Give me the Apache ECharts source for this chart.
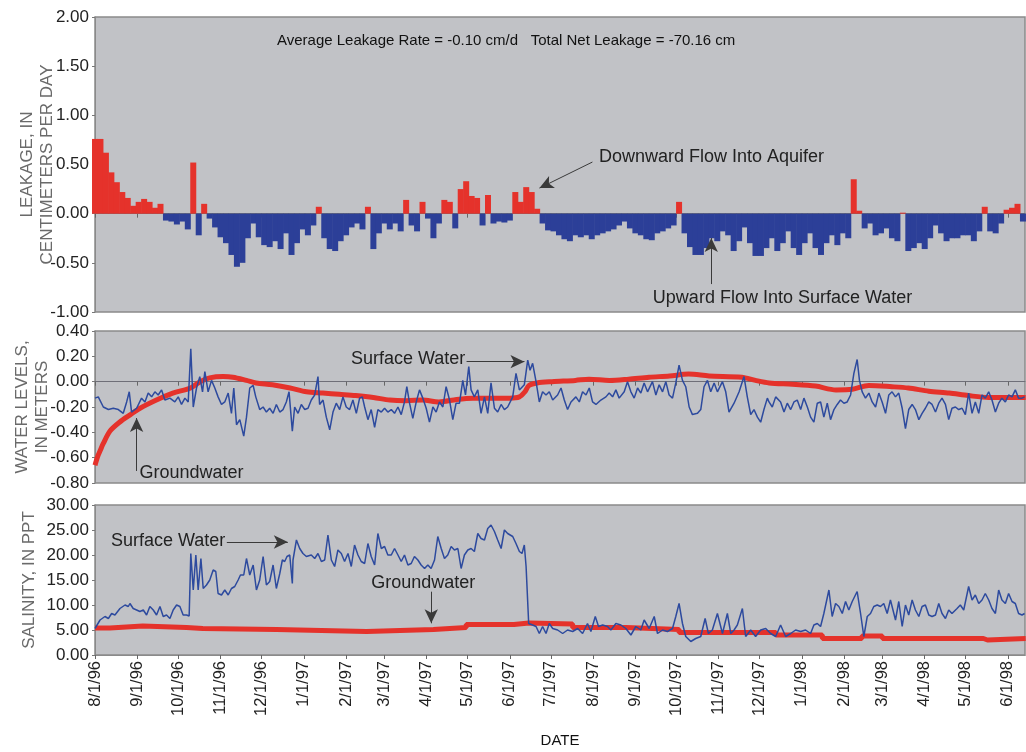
<!DOCTYPE html>
<html><head><meta charset="utf-8">
<script src="https://cdn.jsdelivr.net/npm/echarts@6/dist/echarts.min.js"></script>
<style>html,body{margin:0;padding:0;background:#fff}#c{width:1026px;height:752px}</style>
</head><body><div id="c"></div>
<script>
// ---------------- DATA ----------------
// x values are days after 8/1/96
const tickLabels = ['8/1/96','9/1/96','10/1/96','11/1/96','12/1/96','1/1/97','2/1/97','3/1/97','4/1/97','5/1/97','6/1/97','7/1/97','8/1/97','9/1/97','10/1/97','11/1/97','12/1/97','1/1/98','2/1/98','3/1/98','4/1/98','5/1/98','6/1/98'];
const xEndDay = 681.5;

// Leakage (cm/day), one value every 4 days starting 8/1/96
const leakStepDays = 4;
const leakage = [
 0.76,0.76,0.62,0.42,0.32,0.22,0.16,0.08,0.12,0.15,0.12,0.06,0.10,
 -0.07,-0.08,-0.11,-0.08,-0.16,0.52,-0.22,0.10,-0.05,-0.14,-0.24,-0.30,-0.42,-0.54,-0.50,
 -0.25,-0.10,-0.24,-0.32,-0.34,-0.28,-0.36,-0.20,-0.42,-0.30,-0.16,-0.22,-0.12,0.07,-0.25,-0.36,-0.38,-0.28,-0.22,-0.14,-0.10,-0.16,0.07,-0.36,-0.20,-0.10,-0.16,-0.10,-0.18,0.14,
 -0.12,-0.18,0.12,-0.05,-0.25,-0.10,0.14,0.12,-0.15,0.25,0.33,0.18,0.16,-0.12,0.19,-0.10,-0.08,-0.09,-0.07,0.22,0.12,0.27,0.22,0.05,-0.10,-0.17,-0.18,-0.22,-0.26,-0.28,-0.22,-0.24,-0.22,-0.26,-0.22,-0.20,-0.18,-0.16,-0.12,-0.08,-0.15,-0.20,-0.22,-0.26,-0.27,-0.20,-0.18,-0.15,-0.12,0.12,-0.20,-0.34,-0.42,-0.42,-0.35,
 -0.25,-0.28,-0.18,-0.22,-0.38,-0.28,-0.14,-0.30,-0.43,-0.43,-0.35,-0.25,-0.38,-0.30,-0.18,-0.35,-0.42,-0.30,-0.20,-0.35,-0.42,-0.30,-0.22,-0.32,-0.20,-0.25,0.35,0.03,-0.15,-0.10,-0.22,-0.20,-0.15,-0.25,-0.28,0.01,-0.38,-0.35,-0.30,-0.36,-0.25,-0.12,-0.20,-0.28,-0.25,-0.25,-0.22,-0.22,-0.28,-0.18,0.07,-0.18,-0.20,-0.10,0.04,0.06,0.10,-0.08
];

// Water levels (m): [day, value]
const groundLevel = [[0,-0.66],[2,-0.59],[4,-0.54],[6,-0.49],[11,-0.39],[18,-0.32],[26,-0.26],[33,-0.21],[45,-0.145],[57,-0.09],[70,-0.05],[77,0.0],[84,0.03],[94,0.04],[101,0.035],[111,0.01],[118,-0.01],[130,-0.025],[143,-0.05],[155,-0.08],[167,-0.09],[179,-0.10],[191,-0.11],[204,-0.125],[216,-0.145],[228,-0.15],[240,-0.145],[252,-0.16],[265,-0.14],[277,-0.13],[289,-0.13],[304,-0.13],[311,-0.12],[315,-0.08],[318,-0.03],[324,-0.01],[335,0.0],[352,0.01],[362,0.02],[377,0.01],[391,0.02],[406,0.035],[421,0.045],[435,0.06],[450,0.045],[474,0.035],[484,0.01],[494,-0.01],[511,-0.02],[528,-0.035],[543,-0.065],[555,-0.06],[567,-0.03],[584,-0.04],[596,-0.05],[611,-0.075],[626,-0.09],[640,-0.11],[655,-0.125],[682,-0.125]];

const surfaceLevel = [[0,-0.13],[2.4,-0.12],[6.1,-0.20],[9.8,-0.22],[13.4,-0.21],[17.1,-0.22],[20.7,-0.25],[23.2,-0.16],[25.1,-0.08],[26.8,-0.24],[30.5,-0.21],[34.1,-0.13],[36.6,-0.16],[39,-0.09],[41.5,-0.12],[43.9,-0.08],[46.3,-0.105],[48.8,-0.065],[51.2,-0.145],[54.9,-0.13],[58.5,-0.16],[61,-0.12],[63.4,-0.18],[65.9,-0.13],[68.3,-0.16],[70.2,0.26],[72,-0.20],[74.4,-0.05],[76.8,0.04],[78.8,-0.08],[80.5,0.08],[82.9,-0.08],[85.4,0.01],[87.8,-0.05],[90.2,-0.12],[92.7,-0.18],[95.1,-0.16],[97.6,-0.09],[100,-0.25],[101.7,-0.05],[103.7,-0.34],[106.1,-0.30],[109,-0.43],[111,-0.28],[113.4,-0.05],[115.9,-0.03],[117.8,-0.12],[120.7,-0.22],[123.2,-0.20],[125.6,-0.24],[128,-0.21],[130.5,-0.25],[132.9,-0.18],[135.4,-0.24],[137.8,-0.22],[140.2,-0.16],[142.2,-0.08],[144.6,-0.39],[146.3,-0.20],[148.8,-0.25],[151.2,-0.18],[153.7,-0.22],[156.1,-0.21],[158.5,-0.145],[161,-0.105],[163.4,0.04],[164.6,-0.18],[167.1,-0.145],[169.5,-0.28],[172,-0.38],[174.4,-0.24],[176.8,-0.17],[179.3,-0.22],[181.7,-0.12],[184.1,-0.20],[186.6,-0.22],[189,-0.145],[191.5,-0.25],[193.9,-0.13],[195.9,-0.12],[197.6,-0.20],[200,-0.30],[202.4,-0.22],[204.9,-0.36],[207.3,-0.22],[209.8,-0.24],[212.2,-0.21],[214.6,-0.24],[217.1,-0.22],[219.5,-0.25],[222,-0.20],[224.4,-0.26],[226.8,-0.16],[228.5,-0.04],[230.5,-0.17],[232.9,-0.29],[235.4,-0.16],[237.8,-0.065],[240.2,-0.13],[242.7,-0.21],[245.1,-0.32],[247.6,-0.20],[250,-0.24],[252.4,-0.16],[254.9,-0.20],[257.3,-0.04],[259.8,-0.145],[262.2,-0.30],[264.6,-0.17],[267.1,-0.17],[269.5,0.01],[271.5,-0.105],[273.9,0.12],[275.6,-0.065],[278,-0.12],[280.5,-0.065],[282.9,-0.25],[285.4,-0.12],[287.8,-0.25],[290.2,-0.01],[292.7,-0.21],[295.1,-0.24],[297.6,-0.18],[300,-0.22],[302.4,-0.20],
[306.1,-0.12],[308.5,0.065],[311,-0.065],[314.6,-0.025],[317.1,0.17],[318.8,0.09],[320.7,0.145],[323.2,0],[325.6,-0.16],[328,-0.08],[330.5,-0.105],[332.9,-0.08],[335.4,-0.145],[339,-0.105],[341.5,-0.05],[343.9,-0.145],[346.3,-0.22],[348.8,-0.16],[352.4,-0.12],[354.9,-0.16],[357.3,-0.08],[359.8,-0.105],[362.2,-0.05],[364.6,-0.16],[367.1,-0.18],[370.7,-0.145],[374.4,-0.12],[376.8,-0.09],[379.3,-0.12],[381.7,-0.065],[384.1,-0.13],[387.8,-0.08],[390.2,0],[392.7,-0.08],[395.1,-0.13],[397.6,-0.05],[400,-0.09],[402.4,-0.01],[404.9,-0.08],[408.5,0],[411,-0.105],[413.4,-0.025],[415.9,-0.08],[418.3,0],[420.7,-0.105],[423.2,-0.13],[425.6,-0.01],[428,0.13],[430.5,0.01],[432.9,-0.04],[435.4,-0.20],[437.8,-0.26],[441.5,-0.25],[443.9,-0.22],[446.3,-0.04],[448.8,0.01],[451.2,-0.08],[453.7,-0.01],[456.1,-0.08],[459.8,0],[462.2,-0.08],[464.6,-0.24],[468.3,-0.17],[472,-0.08],[475.6,0.04],[478,-0.12],[480.5,-0.26],[482.9,-0.22],[485.4,-0.28],[487.8,-0.32],[490.2,-0.22],[492.7,-0.13],[493.9,-0.16],[496.3,-0.20],[498.8,-0.12],[502.4,-0.16],[504.9,-0.24],[507.3,-0.17],[509.8,-0.22],[512.2,-0.16],[514.6,-0.145],[517.1,-0.22],[519.5,-0.13],[522,-0.20],[524.4,-0.28],[526.8,-0.32],[529.3,-0.17],[531.7,-0.16],[534.1,-0.28],[536.6,-0.17],[539,-0.30],[541.5,-0.22],[543.9,-0.18],[546.3,-0.145],[548.8,-0.17],[551.2,-0.16],[553.7,-0.105],[556.1,0.065],[558.5,0.175],[560.2,0.01],[562.2,-0.08],[564.6,-0.13],[567.1,-0.09],[569.5,-0.16],[572,-0.20],[574.4,-0.09],[576.8,-0.16],[579.3,-0.25],[581.7,-0.105],[584.1,-0.08],[586.6,-0.12],[589,-0.09],[591.5,-0.21],[593.9,-0.37],[596.3,-0.22],[598.8,-0.18],[601.2,-0.22],[603.7,-0.30],[606.1,-0.25],[608.5,-0.21],[611,-0.16],[613.4,-0.18],[615.9,-0.24],[618.3,-0.17],[620.7,-0.13],[623.2,-0.18],[625.6,-0.30],[628,-0.21],[630.5,-0.20],[632.9,-0.22],[635.4,-0.21],[637.8,-0.26],[640.2,-0.09],[642.7,-0.25],[645.1,-0.16],[647.6,-0.25],[650,-0.105],[652.4,-0.13],[654.9,-0.08],[657.3,-0.145],[659.8,-0.24],[662.2,-0.17],[664.6,-0.13],[667.1,-0.16],[669.5,-0.105],[672,-0.12],[674.4,-0.065],[676.8,-0.13],[679.3,-0.13],[681.2,-0.12]];

// Salinity (ppt): [day, value]
const groundSalinity = [[0,5.4],[11,5.8],[35,5.5],[67,5.3],[79,5.1],[133,4.7],[199,5.1],[248,5.5],[272,6.1],[307,6.4],[318,6.2],[350,5.5],[389,5.1],[428,4.5],[499,4.0],[533,3.3],[562,3.8],[577,3.3],[651,3.0],[654,3.3],[682,3.3]];

const surfaceSalinity = [[0,5.3],[3.7,7.0],[7.3,7.7],[9.8,7.3],[12.2,8.3],[14.6,8.0],[18.3,9.3],[22,10.0],[24.4,9.7],[25.6,10.3],[28,9.3],[30.5,9.0],[32.9,8.7],[35.4,9.0],[37.8,8.0],[40.2,9.7],[42.7,9.0],[45.1,8.0],[47.6,9.7],[50,7.7],[52.4,8.0],[54.9,7.3],[57.3,9.0],[59.8,10.0],[62.2,9.7],[64.6,8.0],[67.1,8.0],[69,7.8],[70.2,20.3],[72,13.0],[73.9,20.0],[75.6,13.0],[77.6,19.3],[79.3,13.3],[81.7,14.0],[84.1,15.0],[86.6,17.0],[88.5,16.7],[90.2,12.3],[92.7,12.0],[95.1,13.0],[97.6,12.0],[100,13.3],[102.4,13.7],[104.9,15.0],[106.6,16.0],[109,16.0],[111,19.3],[113.4,16.0],[115.9,18.0],[118.3,13.0],[120.7,15.0],[123.2,19.7],[125.6,14.0],[128,14.7],[130.5,18.0],[132.9,13.3],[135.4,16.3],[137.3,19.0],[139,18.7],[140.7,19.7],[142.7,20.0],[144.6,14.3],[145.1,19.0],[147.6,23.0],[150,21.3],[152.4,20.3],[154.9,19.7],[158.5,20.0],[161,19.3],[163.4,20.3],[165.9,18.7],[168.3,19.0],[170.7,24.0],[173.2,19.0],[175.6,17.7],[178,21.0],[180.5,20.3],[182.9,18.7],[185.4,20.3],[187.8,17.7],[190.2,22.0],[192.7,20.0],[195.1,18.7],[197.6,18.3],[200,22.3],[202.4,19.7],[204.9,18.0],[207.3,24.3],[209.8,21.3],[212.2,21.7],[214.6,20.0],[217.1,20.0],[219.5,21.3],[222,20.0],[224.4,18.7],[226.8,20.0],[229.3,18.0],[231.7,18.3],[234.1,19.7],[236.6,19.0],[239,18.0],[241.5,17.3],[243.9,18.0],[246.3,17.3],[248.8,19.0],[251.2,23.7],[253.7,21.3],[256.1,19.3],[258.5,20.0],[261,21.7],[263.4,21.0],[265.9,21.3],[268.3,17.3],[270.7,20.0],[273.2,21.0],[275.6,21.3],[278,20.7],[280.5,24.3],[282.9,23.3],[285.4,23.0],[287.8,25.3],[290.2,26.0],[292.7,24.7],[295.1,23.0],[297.6,21.3],[300,25.0],[302.4,24.3],
[306.1,23.7],[308.5,22.3],[311,20.7],[312.9,20.3],[314.6,22.0],[315.9,17.7],[317.8,6.3],[320.7,6.0],[323.2,5.7],[325.6,4.3],[328,5.7],[330.5,4.3],[332.9,6.3],[335.4,5.3],[339,5.0],[342.7,4.3],[346.3,5.0],[350,4.7],[353.7,5.3],[357.3,4.3],[360.9,6.3],[363.4,4.7],[366.6,7.7],[369,5.7],[372,6.0],[375.6,5.7],[378,5.0],[381.7,6.3],[385.4,6.0],[389,5.3],[392.7,4.0],[396.3,5.7],[400,5.0],[402.4,7.0],[406.1,5.3],[409.8,7.7],[412.2,4.3],[415.9,5.0],[419.5,4.7],[423.2,5.3],[425.6,7.7],[428,10.3],[430.5,6.3],[432.9,3.7],[436.6,2.7],[440.2,3.3],[443.9,3.7],[447.1,7.3],[449.5,4.3],[452.4,5.0],[456.1,8.3],[459.8,4.3],[463.4,8.3],[465.9,4.3],[468.3,5.0],[470.7,6.0],[474.4,9.3],[476.8,3.7],[480.5,5.0],[484.1,3.7],[487.8,5.0],[491.5,5.3],[495.1,4.3],[498.8,3.7],[502.4,6.0],[506.1,3.7],[509.8,4.3],[513.4,5.0],[517.1,4.7],[520.7,5.0],[524.4,4.3],[526.8,6.0],[529.3,6.3],[531.7,5.7],[534.1,8.3],[537.8,13.0],[540.2,7.7],[542.7,10.3],[545.1,9.7],[547.6,8.3],[550,10.7],[552.4,9.0],[554.9,10.7],[558.5,12.7],[561,8.3],[563.4,3.7],[565.9,7.7],[568.3,8.3],[570.7,9.7],[573.2,10.0],[575.6,9.7],[578,10.3],[580.5,8.3],[582.9,11.0],[586.6,7.0],[589,10.7],[591.5,5.7],[593.9,10.0],[596.3,8.0],[598.8,11.0],[601.2,9.0],[603.7,7.7],[606.1,9.7],[608.5,10.0],[611,8.0],[613.4,7.7],[615.9,8.0],[618.3,10.3],[620.7,8.3],[623.2,7.3],[625.6,9.0],[628,8.3],[631.7,9.3],[634.1,10.0],[636.6,9.0],[640.2,13.7],[642.7,11.0],[645.1,12.0],[647.6,10.3],[650,11.0],[652.4,12.3],[654.9,11.0],[657.3,9.3],[659.8,8.3],[662.2,13.0],[664.6,11.0],[667.1,10.3],[669.5,12.3],[672,10.7],[674.4,10.3],[676.8,8.3],[679.3,8.0],[681.2,8.3]];

// Annotation texts and arrows (in data coordinates: [day, value])
const headline = 'Average Leakage Rate = -0.10 cm/d   Total Net Leakage = -70.16 cm';
const notes = [
  {panel:0, at:[368.2,0.576], text:'Downward Flow Into Aquifer', side:'right'},
  {panel:0, at:[407.7,-0.859], text:'Upward Flow Into Surface Water', side:'right'},
  {panel:1, at:[272.5,0.179], text:'Surface Water', side:'left'},
  {panel:1, at:[31.5,-0.72], text:'Groundwater', side:'right'},
  {panel:2, at:[96.6,22.8], text:'Surface Water', side:'left'},
  {panel:2, at:[201.3,14.4], text:'Groundwater', side:'right'}
];
const arrows = [
  {panel:0, from:[364.5,0.525], to:[325.7,0.26]},
  {panel:0, from:[451.6,-0.716], to:[451.6,-0.248]},
  {panel:1, from:[272.3,0.158], to:[314.7,0.158]},
  {panel:1, from:[30.5,-0.705], to:[30.5,-0.287]},
  {panel:2, from:[96.6,22.6], to:[141.3,22.6]},
  {panel:2, from:[246.4,12.66], to:[246.4,6.34]}
];

// ---------------- CHART ----------------
const DAY = 86400000;
const base = Date.UTC(1996, 7, 1);
const tickDays = tickLabels.map(s => { const p = s.split('/').map(Number); return Math.round((Date.UTC(1900 + p[2], p[0] - 1, p[1]) - base) / DAY); });
const fmtTick = v => { let best = 0, bd = Infinity; tickDays.forEach((d, i) => { const e = Math.abs(d - v); if (e < bd) { bd = e; best = i; } }); return tickLabels[best]; };

const FONT = 'Liberation Sans, Arial, Helvetica, sans-serif';
const RED = '#e5322b', BLUE_BAR = '#2c3f98', BLUE_LINE = '#2d4a9e';
const gridBox = {left: 95, right: 1, show: true, containLabel: false, outerBoundsMode: 'none',
  backgroundColor: '#c1c2c6', borderColor: '#8a8a8a', borderWidth: 1.5};

function xAx(i) {
  return {
    type: 'value', gridIndex: i, min: 0, max: xEndDay,
    axisLine: {show: true, onZero: true, lineStyle: {color: i === 2 ? '#8a8a8a' : '#6f6f78', width: 1}},
    axisTick: {show: true, customValues: tickDays, length: 4, lineStyle: {color: '#666'}},
    axisLabel: {show: i === 2, customValues: tickDays, rotate: 90, fontSize: 16.5, color: '#222', margin: 6, formatter: fmtTick, fontFamily: FONT},
    splitLine: {show: false},
    name: i === 2 ? 'DATE' : '', nameLocation: 'middle', nameGap: 78, nameMoveOverlap: false,
    nameTextStyle: {fontSize: 15, color: '#111', fontFamily: FONT}
  };
}
function yAx(i, min, max, interval, name, gap) {
  return {
    type: 'value', gridIndex: i, min, max, interval,
    axisLine: {show: true, lineStyle: {color: '#8a8a8a'}},
    axisTick: {show: true, length: 3, lineStyle: {color: '#777'}},
    axisLabel: {fontSize: 17, color: '#222', margin: 6, formatter: v => v.toFixed(2), fontFamily: FONT},
    splitLine: {show: false},
    name, nameLocation: 'middle', nameRotate: 90, nameGap: gap, nameMoveOverlap: false,
    nameTextStyle: {fontSize: 17, lineHeight: 20, color: '#6a6a6a', fontFamily: FONT, align: 'center'}
  };
}
function marks(panel) {
  return {
    markPoint: {
      silent: true, animation: false, symbol: 'circle', symbolSize: 1, itemStyle: {color: 'rgba(0,0,0,0)'},
      data: notes.filter(n => n.panel === panel).map(n => ({
        coord: n.at.slice(),
        label: {show: true, position: n.side, distance: 1, formatter: n.text, fontSize: 18, color: '#222', fontFamily: FONT}
      }))
    },
    markLine: {
      silent: true, animation: false, symbol: ['none', 'arrow'], symbolSize: [10, 14],
      lineStyle: {color: '#3a3a3a', width: 1, type: 'solid'}, label: {show: false},
      data: arrows.filter(a => a.panel === panel).map(a => [{coord: a.from.slice()}, {coord: a.to.slice()}])
    }
  };
}

const chart = echarts.init(document.getElementById('c'), null, {renderer: 'canvas'});
chart.setOption({
  animation: false,
  textStyle: {fontFamily: FONT},
  title: {text: headline, left: 272, top: 28, textStyle: {fontSize: 15, fontWeight: 'normal', color: '#111', fontFamily: FONT}},
  grid: [
    Object.assign({top: 17, height: 295}, gridBox),
    Object.assign({top: 331, height: 152}, gridBox),
    Object.assign({top: 505, height: 150}, gridBox)
  ],
  xAxis: [xAx(0), xAx(1), xAx(2)],
  yAxis: [
    yAx(0, -1, 2, 0.5, 'LEAKAGE, IN\nCENTIMETERS PER DAY', 38),
    yAx(1, -0.8, 0.4, 0.2, 'WATER LEVELS,\nIN METERS', 43),
    yAx(2, 0, 30, 5, 'SALINITY, IN PPT', 56)
  ],
  series: [
    Object.assign({
      name: 'Leakage', type: 'bar', xAxisIndex: 0, yAxisIndex: 0, barWidth: 6,
      data: leakage.map((v, i) => [i * leakStepDays, v]),
      itemStyle: {color: p => (p.value[1] >= 0 ? RED : BLUE_BAR)}
    }, marks(0)),
    {name: 'Groundwater level', type: 'line', xAxisIndex: 1, yAxisIndex: 1, showSymbol: false, smooth: 0.3,
     lineStyle: {color: RED, width: 5}, data: groundLevel},
    Object.assign({name: 'Surface water level', type: 'line', xAxisIndex: 1, yAxisIndex: 1, showSymbol: false,
     lineStyle: {color: BLUE_LINE, width: 1.5}, data: surfaceLevel}, marks(1)),
    {name: 'Groundwater salinity', type: 'line', xAxisIndex: 2, yAxisIndex: 2, showSymbol: false, step: 'end',
     lineStyle: {color: RED, width: 5}, data: groundSalinity},
    Object.assign({name: 'Surface water salinity', type: 'line', xAxisIndex: 2, yAxisIndex: 2, showSymbol: false,
     lineStyle: {color: BLUE_LINE, width: 1.5}, data: surfaceSalinity}, marks(2))
  ]
});
</script></body></html>
